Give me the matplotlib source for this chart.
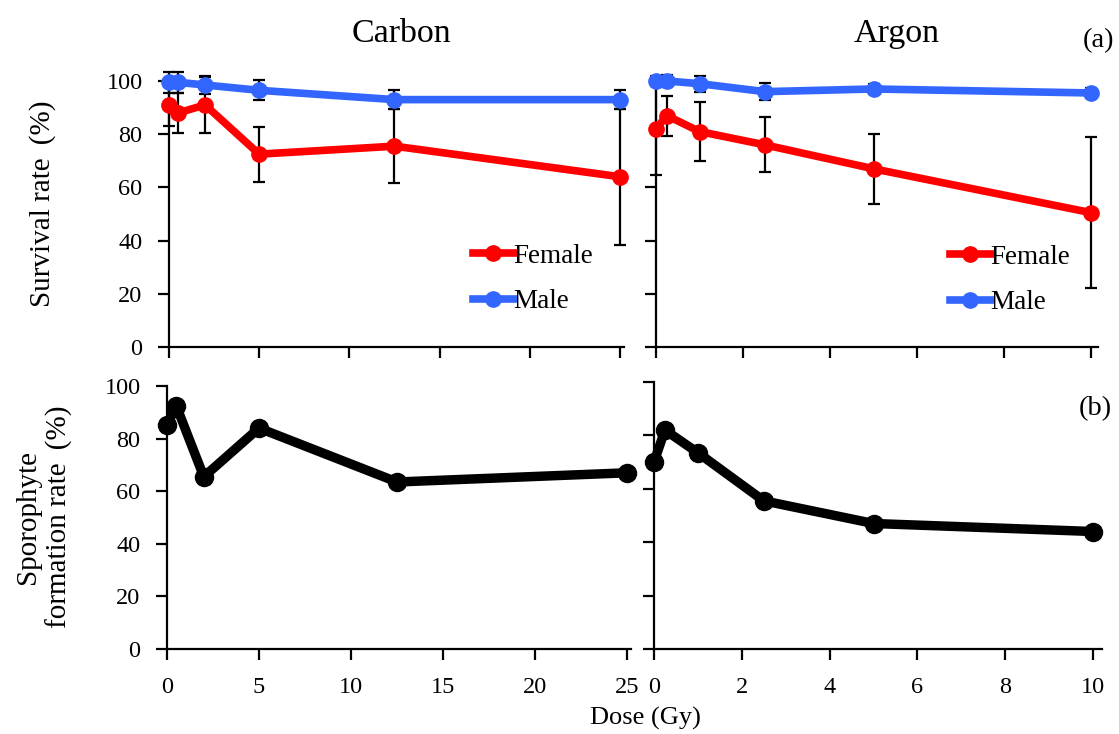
import matplotlib
matplotlib.use("Agg")
import matplotlib.pyplot as plt
from matplotlib.lines import Line2D

plt.rcParams['font.family'] = ['Liberation Serif', 'DejaVu Serif']

# ---- data ----
carbon_dose = [0, 0.5, 2, 5, 12.5, 25]
argon_dose = [0, 0.25, 1, 2.5, 5, 10]

carbon_female = [91, 88, 91, 72.5, 75.5, 64]
carbon_female_err = [8, 7.5, 10.5, 10.3, 14, 25.5]
carbon_male = [99.5, 99.5, 98.5, 96.5, 93, 93]
carbon_male_err = [4, 4, 3.5, 3.8, 3.6, 3.6]

argon_female = [82, 87, 81, 76, 67, 50.5]
argon_female_err = [17.5, 7.5, 11, 10.3, 13.2, 28.4]
argon_male = [100, 100, 99, 96, 97, 95.5]
argon_male_err = [2, 2.2, 3, 3.2, 1.8, 2]

carbon_sporo = [85, 92.5, 65.5, 84, 63.5, 67]
argon_sporo = [70, 82, 73.5, 55.5, 47, 44]

carbon_xticks = [0, 5, 10, 15, 20, 25]
argon_xticks = [0, 2, 4, 6, 8, 10]
yticks = [0, 20, 40, 60, 80, 100]

RED = '#FF0000'
BLUE = '#3366FF'

W, H = 1119, 734
fig = plt.figure(figsize=(W / 100, H / 100), dpi=100)


def px_axes(left, right, top, bottom):
    return fig.add_axes([left / W, 1 - bottom / H, (right - left) / W, (bottom - top) / H])


ax_tl = px_axes(169, 623.6, 81, 347)
ax_tr = px_axes(656, 1098, 81, 347)
ax_bl = px_axes(167, 630.7, 386, 649)
ax_br = px_axes(654, 1101.8, 382, 649)

TICK_FS = 17.5


def style(ax, xlim, xticks, show_xlabels, yt, show_ylabels):
    ax.set_xlim(*xlim)
    ax.set_ylim(0, 100)
    for s in ['top', 'right']:
        ax.spines[s].set_visible(False)
    for s in ['left', 'bottom']:
        ax.spines[s].set_linewidth(1.6)
    ax.set_xticks(xticks)
    ax.set_yticks(yt)
    ax.tick_params(axis='both', direction='out', length=8, width=1.6,
                   labelsize=TICK_FS)
    ax.tick_params(axis='y', pad=11)
    ax.tick_params(axis='x', pad=12)
    if not show_xlabels:
        ax.set_xticklabels([])
    if not show_ylabels:
        ax.set_yticklabels([])
    ax.patch.set_alpha(0)


style(ax_tl, (0, 25.2), carbon_xticks, False, yticks, True)
style(ax_tr, (0, 10.16), argon_xticks, False, [0, 20, 40, 60], False)
style(ax_bl, (0, 25.2), carbon_xticks, True, yticks, True)
style(ax_br, (0, 10.2), argon_xticks, True, yticks, False)

LW = 5.5
MS = 11
eb_kw = dict(fmt='none', ecolor='black', elinewidth=1.6, capsize=4.5,
             capthick=1.6, zorder=2, clip_on=False)


def survival(ax, dose, fem, fem_err, male, male_err):
    ax.errorbar(dose, fem, yerr=fem_err, **eb_kw)
    ax.errorbar(dose, male, yerr=male_err, **eb_kw)
    ax.plot(dose, fem, '-o', color=RED, lw=LW, ms=MS, zorder=3, clip_on=False)
    ax.plot(dose, male, '-o', color=BLUE, lw=LW, ms=MS, zorder=4, clip_on=False)


survival(ax_tl, carbon_dose, carbon_female, carbon_female_err, carbon_male, carbon_male_err)
survival(ax_tr, argon_dose, argon_female, argon_female_err, argon_male, argon_male_err)

ax_bl.plot(carbon_dose, carbon_sporo, '-o', color='black', lw=6.8, ms=13,
           zorder=3, clip_on=False)
ax_br.plot(argon_dose, argon_sporo, '-o', color='black', lw=6.8, ms=13,
           zorder=3, clip_on=False)

handles = [Line2D([], [], color=RED, lw=LW, marker='o', ms=MS),
           Line2D([], [], color=BLUE, lw=LW, marker='o', ms=MS)]
for xpix, ypix in [(473, 279), (950, 280)]:
    fig.legend(handles, ['Female', 'Male'], loc='center left',
               bbox_to_anchor=(xpix / W, 1 - ypix / H), frameon=False,
               fontsize=19.5, handlelength=1.5, handletextpad=0.0,
               borderpad=0, borderaxespad=0, labelspacing=0.75)

fig.text(401.7 / W, 1 - 42 / H, 'Carbon', ha='center', va='baseline', fontsize=24.5)
fig.text(896.7 / W, 1 - 42 / H, 'Argon', ha='center', va='baseline', fontsize=24.5)
fig.text(1099 / W, 1 - 41 / H, '(a)', ha='center', va='center', fontsize=20.5)
fig.text(1095 / W, 1 - 409 / H, '(b)', ha='center', va='center', fontsize=20.5)
fig.text(42.5 / W, 1 - 204 / H, 'Survival rate\u2009 (%)', ha='center', va='center',
         rotation=90, fontsize=21)
fig.text(44 / W, 1 - 517 / H, 'Sporophyte\nformation rate\u2009 (%)', ha='center',
         va='center', rotation=90, fontsize=21, multialignment='center',
         linespacing=1.25)
fig.text(645 / W, 1 - 718 / H, 'Dose (Gy)', ha='center', va='center', fontsize=19)

fig.savefig('out.png', dpi=100)
